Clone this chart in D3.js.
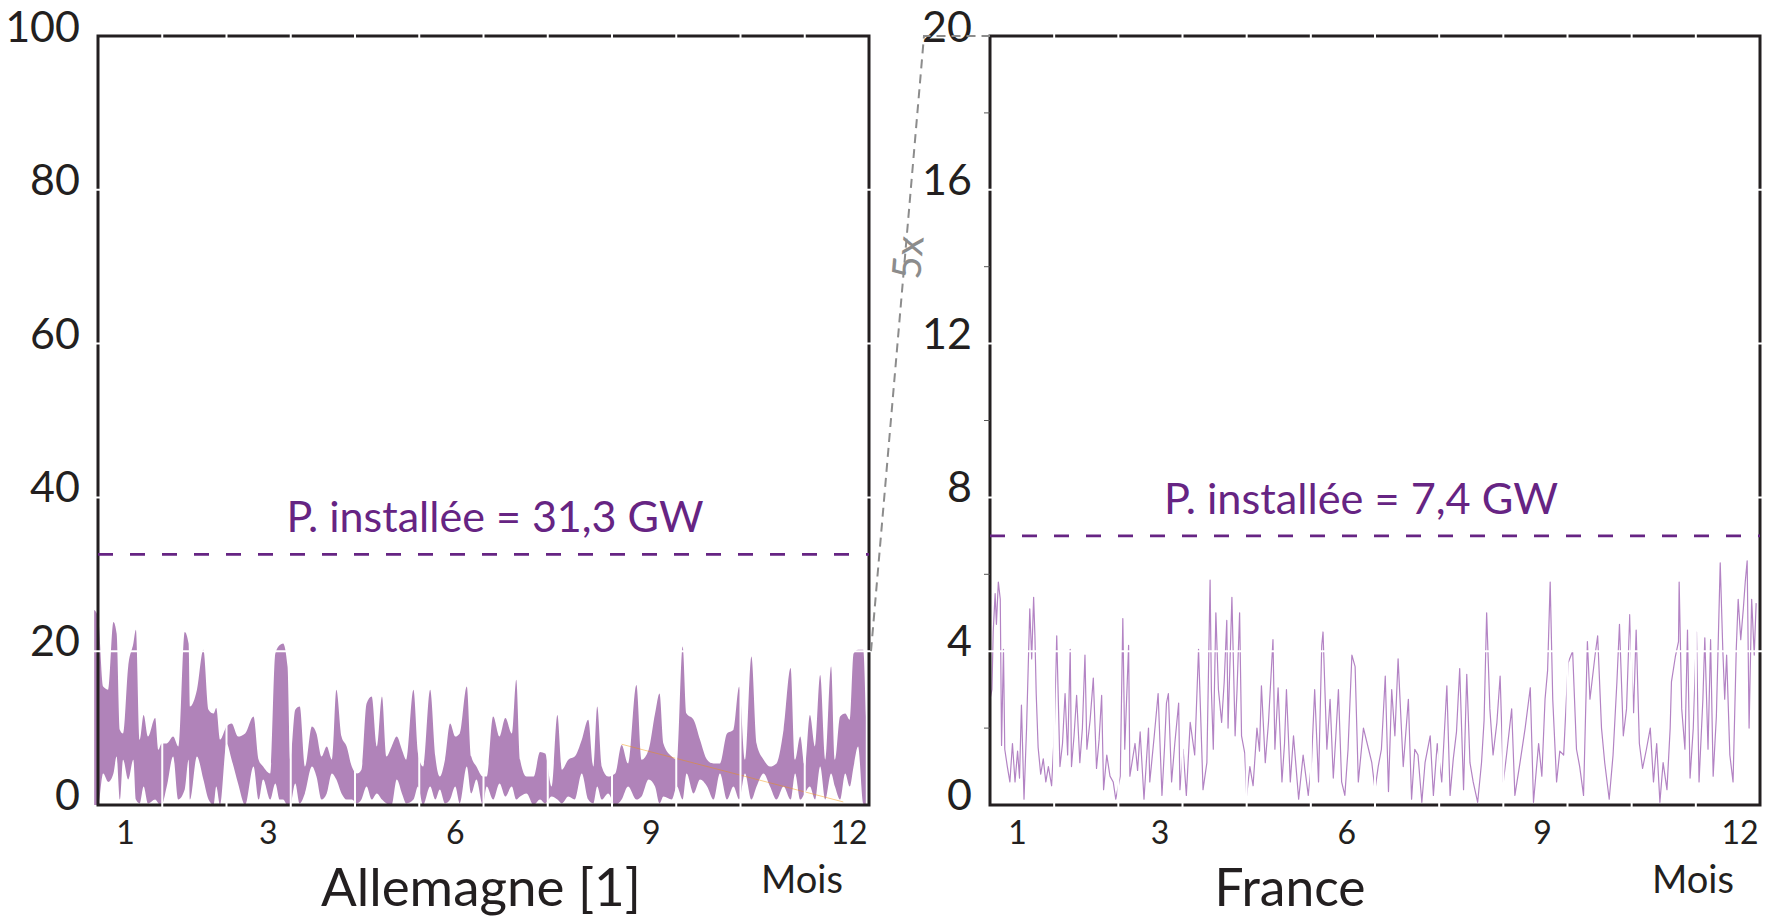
<!DOCTYPE html>
<html>
<head>
<meta charset="utf-8">
<script src="https://cdn.jsdelivr.net/npm/d3@7"></script>
<style>
  body { margin: 0; background: #fff; }
  text { font-family: Lato, "Open Sans", sans-serif; fill: #231f20; }
</style>
</head>
<body>
<svg id="chart" width="1775" height="920"></svg>
<script>
// ---- data ----
// x unit = month of the year (0 = start of january, 12 = end of december)
const monthTicks = [0.43, 2.65, 5.56, 8.61, 11.69]
const monthLabels = ["1", "3", "6", "9", "12"]
const monthBounds = [1, 2, 3, 4, 5, 6, 7, 8, 9, 10, 11]

const deTicks = [0, 20, 40, 60, 80, 100]
const frTicks = [0, 4, 8, 12, 16, 20]
const frMinorTicks = [2, 6, 10, 14, 18]

const deInstalled = 32.6
const frInstalled = 7.0
const deInstalledLabel = "P. installée = 31,3 GW"
const frInstalledLabel = "P. installée = 7,4 GW"

// germany: filled band between a low and a high edge (GW)
const deMonth = [-0.06, 0.0, 0.08, 0.16, 0.24, 0.29, 0.34, 0.39, 0.47, 0.55,
  0.59, 0.65, 0.71, 0.78, 0.89, 0.94, 0.99, 1.07, 1.17, 1.25,
  1.35, 1.41, 1.43, 1.54, 1.64, 1.72, 1.80, 1.84, 1.90, 2.00,
  2.08, 2.18, 2.29, 2.42, 2.50, 2.57, 2.68, 2.76, 2.83, 2.88,
  2.95, 2.99, 3.07, 3.14, 3.22, 3.33, 3.40, 3.48, 3.56, 3.64,
  3.71, 3.79, 3.87, 3.95, 4.03, 4.10, 4.18, 4.26, 4.34, 4.42,
  4.49, 4.57, 4.65, 4.73, 4.80, 4.91, 4.98, 5.06, 5.17, 5.25,
  5.32, 5.40, 5.48, 5.56, 5.63, 5.74, 5.81, 5.89, 5.99, 6.05,
  6.15, 6.25, 6.34, 6.44, 6.51, 6.57, 6.67, 6.78, 6.88, 6.96,
  7.06, 7.15, 7.22, 7.32, 7.42, 7.53, 7.63, 7.71, 7.77, 7.84,
  7.94, 8.05, 8.15, 8.25, 8.38, 8.46, 8.57, 8.67, 8.74, 8.80,
  8.93, 9.01, 9.10, 9.16, 9.27, 9.37, 9.48, 9.58, 9.68, 9.79,
  9.89, 9.98, 10.07, 10.17, 10.25, 10.36, 10.46, 10.56, 10.67, 10.78,
  10.85, 10.93, 11.00, 11.08, 11.16, 11.24, 11.32, 11.41, 11.47, 11.55,
  11.63, 11.70, 11.76, 11.83, 11.91, 11.95]
const deHigh = [25.4, 24.5, 15.4, 15.0, 23.8, 22.3, 9.8, 9.3, 18.0, 21.0,
  22.8, 8.5, 11.7, 8.9, 11.3, 7.2, 8.0, 8.0, 8.9, 7.6,
  22.5, 21.0, 12.8, 15.0, 20.2, 12.4, 11.9, 12.6, 8.5, 10.2,
  10.6, 8.9, 9.3, 11.5, 5.9, 5.0, 4.1, 19.7, 20.8, 21.0,
  18.0, 5.9, 12.4, 12.8, 5.0, 10.2, 9.3, 6.3, 7.6, 5.9,
  15.0, 8.9, 7.6, 5.0, 4.1, 4.6, 13.2, 14.1, 7.6, 14.1,
  6.3, 7.6, 8.9, 7.2, 5.9, 15.0, 6.7, 5.0, 15.0, 6.3,
  3.7, 5.9, 10.6, 8.9, 9.3, 15.4, 6.3, 5.0, 3.7, 3.7,
  11.5, 8.9, 11.3, 9.3, 16.3, 5.9, 3.7, 3.7, 6.9, 6.7,
  2.4, 11.7, 4.6, 5.9, 6.3, 8.5, 11.1, 5.0, 12.8, 5.0,
  3.7, 4.1, 7.8, 5.4, 15.6, 5.9, 7.2, 11.9, 14.5, 8.0,
  6.3, 5.9, 20.6, 11.9, 11.1, 8.5, 5.9, 5.4, 5.4, 9.3,
  9.8, 15.4, 5.9, 19.3, 8.0, 5.9, 5.0, 5.4, 9.8, 17.8,
  5.9, 8.9, 5.0, 11.7, 7.6, 16.9, 5.9, 18.0, 5.9, 11.5,
  11.9, 11.1, 19.7, 20.2, 20.2, 11.5]
const deLow = [0, 0, 4.1, 3.0, 4.1, 6.3, 0.7, 5.9, 3.3, 5.9,
  0.7, 0.2, 2.4, 0.2, 0.7, 0.2, 0, 2.4, 6.3, 0.7,
  2.0, 5.9, 0.7, 6.3, 3.3, 0.7, 0, 2.4, 0, 8.0,
  5.9, 2.8, 0, 5.0, 0.7, 3.3, 0.7, 2.8, 0.7, 0.7,
  0, 0, 2.8, 0.2, 1.5, 5.0, 3.7, 0.7, 1.5, 4.1,
  3.3, 1.5, 0.7, 0.7, 0.2, 0.7, 2.4, 0.7, 1.5, 0.7,
  0.2, 0, 3.3, 1.5, 0.2, 0.7, 2.4, 0, 2.4, 0.7,
  2.0, 0.2, 0.7, 2.4, 0.2, 5.0, 1.5, 3.3, 0, 2.4,
  0.7, 2.8, 1.1, 2.4, 0.7, 1.1, 1.5, 0, 0.7, 0.2,
  1.1, 0.7, 0.2, 1.1, 0.7, 4.1, 0.7, 0.2, 2.4, 0.7,
  1.5, 0, 0.7, 2.4, 0.7, 1.1, 3.3, 2.4, 0.2, 1.1,
  0.7, 2.4, 0.7, 4.1, 1.5, 3.3, 2.4, 0.7, 4.1, 0.7,
  2.4, 0.7, 4.1, 0.7, 2.4, 4.1, 2.4, 0.7, 2.4, 0.7,
  4.1, 0.7, 1.5, 2.4, 0.7, 5.0, 0.7, 4.1, 2.4, 0.7,
  4.1, 2.4, 5.0, 7.6, 0.2, 0]
// faint orange trace in the germany panel
const deOrangeMonth = [8.15, 11.6]
const deOrangeValue = [7.9, 0.4]

// france: production line (GW)
const frMonth = [0.00, 0.03, 0.05, 0.08, 0.10, 0.13, 0.16, 0.18, 0.21, 0.23,
  0.27, 0.31, 0.35, 0.39, 0.43, 0.46, 0.49, 0.53, 0.57, 0.62,
  0.65, 0.68, 0.70, 0.72, 0.75, 0.79, 0.83, 0.87, 0.91, 0.96,
  1.00, 1.04, 1.09, 1.13, 1.17, 1.21, 1.25, 1.27, 1.31, 1.35,
  1.40, 1.44, 1.48, 1.51, 1.56, 1.61, 1.66, 1.70, 1.74, 1.77,
  1.82, 1.87, 1.92, 1.96, 2.03, 2.07, 2.10, 2.16, 2.18, 2.26,
  2.30, 2.34, 2.40, 2.47, 2.49, 2.56, 2.62, 2.68, 2.72, 2.75,
  2.78, 2.83, 2.88, 2.94, 2.96, 3.01, 3.06, 3.12, 3.19, 3.25,
  3.32, 3.38, 3.43, 3.45, 3.48, 3.52, 3.56, 3.61, 3.65, 3.69,
  3.71, 3.77, 3.82, 3.85, 3.89, 3.92, 3.97, 4.00, 4.05, 4.10,
  4.16, 4.20, 4.23, 4.29, 4.34, 4.41, 4.44, 4.49, 4.55, 4.59,
  4.62, 4.68, 4.73, 4.81, 4.88, 4.96, 5.01, 5.06, 5.12, 5.17,
  5.19, 5.25, 5.30, 5.35, 5.39, 5.43, 5.48, 5.53, 5.58, 5.64,
  5.69, 5.74, 5.82, 5.90, 5.95, 6.00, 6.05, 6.10, 6.16, 6.21,
  6.26, 6.31, 6.36,
  6.44, 6.52, 6.57, 6.62, 6.67, 6.73, 6.78, 6.86, 6.91, 6.97,
  7.04, 7.12, 7.17, 7.22, 7.27, 7.32, 7.38, 7.43, 7.48, 7.53,
  7.60, 7.66, 7.70, 7.74, 7.79, 7.84, 7.90, 7.95, 8.00, 8.05,
  8.13, 8.18, 8.26, 8.34, 8.42, 8.47, 8.55, 8.60, 8.65, 8.69,
  8.73, 8.77, 8.83, 8.88, 8.94, 9.01, 9.08, 9.14, 9.19, 9.25,
  9.31, 9.35, 9.43, 9.47, 9.53, 9.58, 9.65, 9.71, 9.77, 9.81,
  9.87, 9.92, 9.97, 10.03, 10.07, 10.12, 10.17, 10.23, 10.29, 10.34,
  10.39, 10.44, 10.49, 10.55, 10.60, 10.62, 10.68, 10.73, 10.74, 10.78,
  10.83, 10.87, 10.91, 10.96, 11.01, 11.05, 11.11, 11.14, 11.19, 11.23,
  11.27, 11.32, 11.38, 11.42, 11.45, 11.48, 11.53, 11.58, 11.63, 11.66,
  11.70, 11.74, 11.77, 11.80, 11.83, 11.87, 11.91, 11.94]
const frValue = [2.75, 3.0, 4.5, 5.5, 4.7, 5.8, 5.35, 1.55, 4.05, 1.45,
  1.0, 0.6, 1.6, 0.6, 1.4, 0.7, 2.6, 0.15, 2.0, 5.1,
  3.8, 5.4, 4.4, 2.9, 1.5, 0.8, 1.2, 0.6, 1.0, 0.5,
  1.8, 4.4, 1.0, 1.6, 2.9, 1.3, 4.05, 1.0, 1.8, 2.85,
  1.1, 2.0, 3.9, 1.45, 2.2, 3.3, 0.95, 1.7, 2.85, 0.4,
  1.3, 0.75, 0.6, 0.15, 0.75, 4.85, 1.45, 4.15, 0.75, 1.6,
  0.9, 1.9, 0.15, 2.0, 0.6, 1.8, 2.9, 0.25, 1.5, 2.65,
  2.9, 0.6, 1.6, 2.65, 0.4, 1.45, 0.25, 2.15, 1.3, 4.05,
  0.4, 1.1, 5.85, 3.0, 1.45, 5.0, 3.0, 2.15, 3.2, 4.8,
  2.0, 5.4, 1.8, 3.0, 5.0, 1.8, 1.35, 0.25, 1.0, 0.5,
  2.0, 1.4, 3.1, 1.1, 2.15, 4.3, 1.45, 3.05, 0.6, 1.6,
  3.0, 0.6, 1.8, 0.15, 1.3, 0.25, 1.1, 3.0, 0.6, 4.15,
  4.5, 1.45, 2.75, 0.7, 1.8, 3.0, 0.6, 0.25, 1.45, 3.9,
  3.6, 0.6, 2.0, 1.45, 1.1, 0.4, 1.0, 1.45, 3.35, 0.35,
  3.0, 1.8, 3.8,
  1.0, 2.75, 0.15, 1.45, 1.3, 0.07, 1.1, 1.8, 0.25, 1.6,
  0.6, 3.1, 0.25, 1.2, 1.9, 3.55, 0.4, 3.4, 1.1, 0.6,
  0.07, 1.1, 2.2, 5.0, 2.5, 1.3, 2.15, 3.35, 0.6, 1.3,
  2.5, 0.25, 1.1, 2.0, 3.05, 0.07, 1.6, 0.75, 2.75, 3.5,
  5.8, 2.75, 0.6, 1.4, 1.3, 3.7, 4.0, 1.45, 1.0, 0.25,
  4.25, 2.75, 3.9, 4.4, 2.0, 1.1, 0.15, 1.3, 3.2, 4.7,
  1.8, 2.5, 4.95, 2.4, 4.55, 1.6, 0.95, 1.45, 2.0, 0.6,
  1.6, 0.07, 1.1, 0.4, 2.0, 3.2, 3.85, 4.25, 5.8, 2.5,
  1.45, 4.55, 0.7, 2.0, 4.5, 0.6, 2.75, 4.35, 1.45, 4.3,
  0.75, 2.3, 6.3, 4.05, 2.75, 3.9, 1.3, 0.6, 4.05, 5.35,
  4.3, 5.1, 5.8, 6.35, 2.0, 5.35, 3.9, 5.25]

// ---- layout ----
const plotTop = 36, plotBottom = 805
const ink = "#231f20"
const purple = "#662483"
const lilac = "#b083b9"

const svg = d3.select("#chart")
svg.append("rect").attr("width", 1775).attr("height", 920).attr("fill", "#fff")

const panels = [
  {name: "Allemagne [1]", left: 98, right: 869, yMax: 100, ticks: deTicks,
   installed: deInstalled, label: deInstalledLabel, labelX: 495, labelW: 417,
   titleX: 481, titleW: 320},
  {name: "France", left: 990, right: 1760, yMax: 20, ticks: frTicks,
   installed: frInstalled, label: frInstalledLabel, labelX: 1361, labelW: 394,
   titleX: 1290, titleW: 151}
]

panels.forEach(p => {
  p.x = d3.scaleLinear().domain([0, 12]).range([p.left, p.right])
  p.y = d3.scaleLinear().domain([0, p.yMax]).range([plotBottom, plotTop])
})
const [de, fr] = panels

// germany band
const deData = d3.range(deMonth.length).map(i => ({m: deMonth[i], lo: deLow[i], hi: deHigh[i]}))
const deArea = d3.area()
  .x(d => de.x(d.m))
  .y0(d => de.y(d.lo))
  .y1(d => de.y(d.hi))
  .curve(d3.curveMonotoneX)

svg.append("path")
  .datum(deData)
  .attr("d", deArea)
  .attr("fill", lilac)

svg.append("path")
  .datum(d3.zip(deOrangeMonth, deOrangeValue))
  .attr("d", d3.line().x(d => de.x(d[0])).y(d => de.y(d[1])))
  .attr("fill", "none")
  .attr("stroke", "#f39200")
  .attr("stroke-opacity", 0.45)
  .attr("stroke-width", 1)

// france line
svg.append("path")
  .datum(d3.zip(frMonth, frValue))
  .attr("d", d3.line().x(d => fr.x(d[0])).y(d => fr.y(d[1])))
  .attr("fill", "none")
  .attr("stroke", "#b383c4")
  .attr("stroke-width", 1.2)
  .attr("stroke-linejoin", "round")

panels.forEach(p => {
  const g = svg.append("g")

  // frame
  g.append("rect")
    .attr("x", p.left).attr("y", plotTop)
    .attr("width", p.right - p.left).attr("height", plotBottom - plotTop)
    .attr("fill", "none")
    .attr("stroke", ink)
    .attr("stroke-width", 3)

  // white ticks / grid cutting through frame and data
  g.selectAll(".vgrid")
    .data(monthBounds)
    .join("line")
    .attr("x1", d => p.x(d)).attr("x2", d => p.x(d))
    .attr("y1", plotTop - 4).attr("y2", plotBottom + 4)
    .attr("stroke", "#fff")
    .attr("stroke-width", 2)

  g.selectAll(".hgrid")
    .data(p.ticks.slice(1, -1))
    .join("line")
    .attr("x1", p.left - 4).attr("x2", p.right + 4)
    .attr("y1", d => p.y(d)).attr("y2", d => p.y(d))
    .attr("stroke", "#fff")
    .attr("stroke-width", 2)

  // installed power
  g.append("line")
    .attr("x1", p.left).attr("x2", p.right)
    .attr("y1", p.y(p.installed)).attr("y2", p.y(p.installed))
    .attr("stroke", purple)
    .attr("stroke-width", 2.7)
    .attr("stroke-dasharray", "15,17")

  g.append("text")
    .attr("x", p.labelX)
    .attr("y", p.y(p.installed) - 22)
    .attr("text-anchor", "middle")
    .attr("textLength", p.labelW)
    .attr("lengthAdjust", "spacingAndGlyphs")
    .style("font-size", "43px")
    .style("fill", purple)
    .text(p.label)

  // y tick labels
  g.selectAll(".ylab")
    .data(p.ticks)
    .join("text")
    .attr("x", p.left - 18)
    .attr("y", d => p.y(d) + (d === p.yMax ? 6 : 5))
    .attr("text-anchor", "end")
    .style("font-size", "43px")
    .text(d => d)

  // x tick labels
  g.selectAll(".xlab")
    .data(monthTicks)
    .join("text")
    .attr("x", d => p.x(d))
    .attr("y", 844)
    .attr("text-anchor", "middle")
    .style("font-size", "32px")
    .text((d, i) => monthLabels[i])

  g.append("text")
    .attr("x", p.right - 26)
    .attr("y", 893)
    .attr("text-anchor", "end")
    .attr("textLength", 82)
    .attr("lengthAdjust", "spacingAndGlyphs")
    .style("font-size", "38px")
    .text("Mois")

  g.append("text")
    .attr("x", p.titleX)
    .attr("y", 906)
    .attr("text-anchor", "middle")
    .attr("textLength", p.titleW)
    .attr("lengthAdjust", "spacingAndGlyphs")
    .style("font-size", "53px")
    .text(p.name)
})

// small outward minor ticks on france left axis
svg.append("g")
  .selectAll("line")
  .data(frMinorTicks)
  .join("line")
  .attr("x1", fr.left - 6).attr("x2", fr.left)
  .attr("y1", d => fr.y(d)).attr("y2", d => fr.y(d))
  .attr("stroke", "#555")
  .attr("stroke-width", 1)

// zoom connector "5x"
const p0 = [de.x(12) + 2, de.y(20)]
const p1 = [fr.x(0) - 66, fr.y(20)]
const p2 = [fr.x(0), fr.y(20)]
svg.append("path")
  .attr("d", d3.line()([p0, p1, p2]))
  .attr("fill", "none")
  .attr("stroke", "#8c8c8c")
  .attr("stroke-width", 2)
  .attr("stroke-dasharray", "9,6")

const t = 0.64
const lx = p0[0] + (p1[0] - p0[0]) * t
const ly = p0[1] + (p1[1] - p0[1]) * t
const ang = Math.atan2(p1[1] - p0[1], p1[0] - p0[0]) * 180 / Math.PI
svg.append("text")
  .attr("transform", `translate(${lx + 3},${ly}) rotate(${ang})`)
  .attr("text-anchor", "middle")
  .attr("dy", "0.35em")
  .style("font-size", "40px")
  .style("fill", "#8c8c8c")
  .text("5x")
</script>
</body>
</html>
